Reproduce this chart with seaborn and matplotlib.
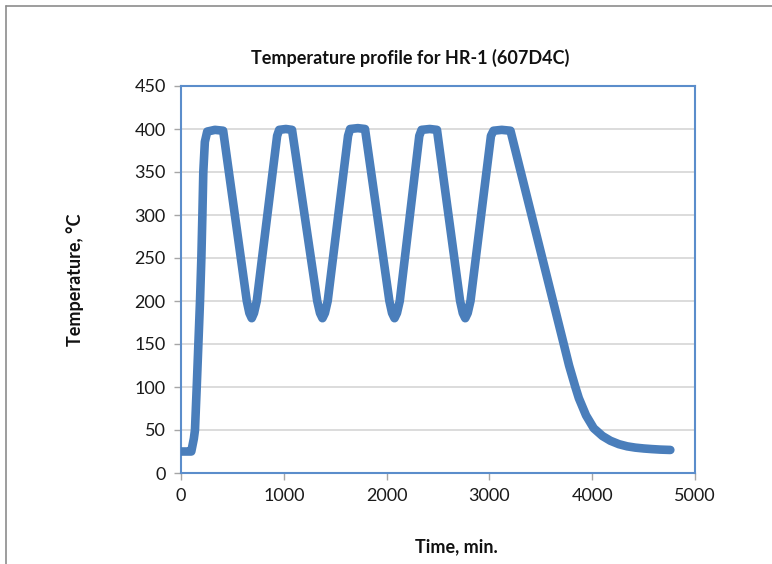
import numpy as np
import pandas as pd
import matplotlib
matplotlib.use("Agg")
import matplotlib.pyplot as plt
import seaborn as sns
from matplotlib.lines import Line2D

# ---- data ----
time_min = [0, 50, 100, 125, 136, 153, 169, 185, 198, 208, 217, 232, 255, 330, 410,
            640, 665, 688, 710, 737, 935, 955, 1020, 1080,
            1325, 1352, 1376, 1400, 1427, 1625, 1645, 1720, 1790,
            2027, 2053, 2077, 2101, 2128, 2318, 2340, 2420, 2490,
            2715, 2741, 2765, 2789, 2816, 3015, 3040, 3120, 3205,
            3723, 3775, 3836, 3870, 3940, 4015, 4100, 4177, 4260, 4340, 4420, 4502, 4580, 4664, 4760]
temp_c = [25, 25, 25, 40, 50, 100, 150, 200, 250, 300, 350, 385, 397, 399, 398,
          200, 186, 180, 186, 200, 392, 399, 400, 399,
          200, 186, 180, 186, 200, 392, 400, 401, 400,
          200, 186, 180, 186, 200, 392, 399, 400, 399,
          200, 186, 180, 186, 200, 392, 398, 399, 398,
          150, 125, 100, 87, 67, 52, 43, 37.5, 33.5, 31, 29.5, 28.5, 27.8, 27.2, 26.8]

x_ticks = [0, 1000, 2000, 3000, 4000, 5000]
y_ticks = [0, 50, 100, 150, 200, 250, 300, 350, 400, 450]

title_text = "Temperature profile for HR-1 (607D4C)"
x_label = "Time, min."
y_label = "Temperature, °C"

df = pd.DataFrame({"time": time_min, "temp": temp_c})

sns.set_style("white")
plt.rcParams["font.family"] = ["Lato", "DejaVu Sans"]

fig = plt.figure(figsize=(7.72, 5.64), dpi=100)
ax = fig.add_axes([181 / 772, 1 - 473 / 564, (695 - 181) / 772, (473 - 86) / 564])

sns.lineplot(data=df, x="time", y="temp", ax=ax, sort=False, estimator=None,
             color="#4A7EBB", linewidth=6.2, solid_joinstyle="round",
             solid_capstyle="round", zorder=3)

ax.set_xlim(0, 5000)
ax.set_ylim(0, 450)
ax.set_xticks(x_ticks)
ax.set_yticks(y_ticks)
ax.set_xticklabels([str(v) for v in x_ticks])
ax.set_yticklabels([str(v) for v in y_ticks])
ax.set_xlabel("")
ax.set_ylabel("")

ax.yaxis.grid(True, color="#D9D9D9", linewidth=1.3, zorder=0)
ax.xaxis.grid(False)
for sp in ax.spines.values():
    sp.set_visible(True)
    sp.set_color("#5B8DCB")
    sp.set_linewidth(1.5)

ax.tick_params(axis="both", which="major", direction="out", length=5, width=1,
               color="#A6A6A6", labelsize=13, labelcolor="#1a1a1a", pad=6, bottom=True, left=True)

fig.text(410 / 772, 1 - 58 / 564, title_text, ha="center", va="center",
         fontsize=13, fontweight="bold", color="#111111")
fig.text(456 / 772, 1 - 547 / 564, x_label, ha="center", va="center",
         fontsize=13, fontweight="bold", color="#111111")
fig.text(75 / 772, 1 - 280 / 564, y_label, ha="center", va="center", rotation=90,
         fontsize=13, fontweight="bold", color="#111111")

# outer chart border (only left/top visible in the reference)
fig.add_artist(Line2D([6 / 772, 6 / 772], [0, 1 - 6 / 564], color="#8C8C8C",
                      linewidth=1.2, transform=fig.transFigure))
fig.add_artist(Line2D([6 / 772, 1], [1 - 6 / 564, 1 - 6 / 564], color="#8C8C8C",
                      linewidth=1.2, transform=fig.transFigure))

fig.savefig("out.png", dpi=100)
